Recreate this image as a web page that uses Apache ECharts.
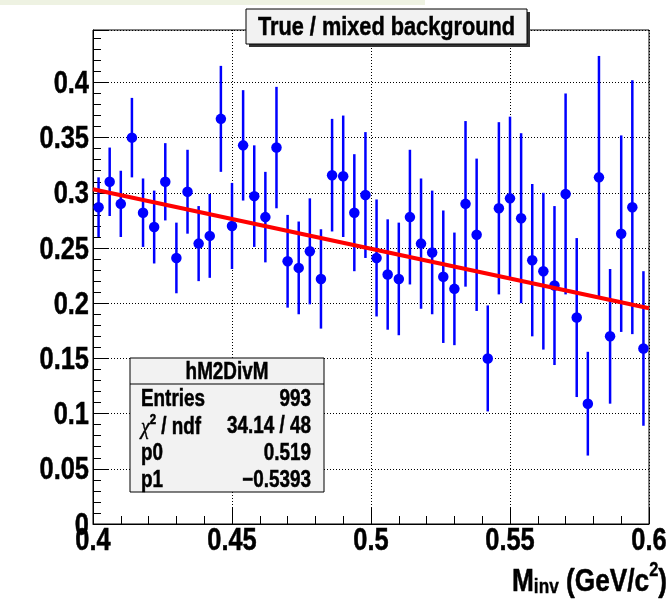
<!DOCTYPE html>
<html>
<head>
<meta charset="utf-8">
<script src="https://cdn.jsdelivr.net/npm/echarts@6/dist/echarts.min.js"></script>
<style>
  html, body { margin: 0; padding: 0; background: #ffffff; }
  #chart { width: 671px; height: 603px; }
</style>
</head>
<body>
<div id="chart"></div>
<script>
// Invariant-mass bin centres (GeV/c^2), 50 bins of 4 MeV between 0.4 and 0.6
const massCenters = [
  0.402, 0.406, 0.410, 0.414, 0.418, 0.422, 0.426, 0.430, 0.434, 0.438,
  0.442, 0.446, 0.450, 0.454, 0.458, 0.462, 0.466, 0.470, 0.474, 0.478,
  0.482, 0.486, 0.490, 0.494, 0.498, 0.502, 0.506, 0.510, 0.514, 0.518,
  0.522, 0.526, 0.530, 0.534, 0.538, 0.542, 0.546, 0.550, 0.554, 0.558,
  0.562, 0.566, 0.570, 0.574, 0.578, 0.582, 0.586, 0.590, 0.594, 0.598
];

// True / mixed-event background ratio per bin
const ratioValues = [
  0.287, 0.310, 0.290, 0.350, 0.282, 0.269, 0.310, 0.241, 0.301, 0.254,
  0.261, 0.367, 0.270, 0.343, 0.297, 0.278, 0.341, 0.238, 0.232, 0.247,
  0.222, 0.316, 0.315, 0.282, 0.298, 0.241, 0.226, 0.222, 0.278, 0.254,
  0.246, 0.224, 0.213, 0.290, 0.262, 0.150, 0.286, 0.295, 0.277, 0.239,
  0.229, 0.216, 0.299, 0.187, 0.109, 0.314, 0.170, 0.263, 0.287, 0.159
];

// Statistical uncertainty of each ratio
const ratioErrors = [
  0.027, 0.031, 0.030, 0.036, 0.031, 0.033, 0.035, 0.032, 0.038, 0.034,
  0.038, 0.048, 0.039, 0.050, 0.046, 0.041, 0.055, 0.042, 0.042, 0.048,
  0.045, 0.051, 0.055, 0.053, 0.057, 0.053, 0.050, 0.051, 0.061, 0.059,
  0.056, 0.060, 0.051, 0.075, 0.069, 0.048, 0.078, 0.074, 0.077, 0.069,
  0.071, 0.072, 0.091, 0.072, 0.047, 0.110, 0.061, 0.089, 0.115, 0.070
];

// Linear fit p0 + p1 * M over the full range
const fitP0 = 0.519;
const fitP1 = -0.5393;
const fitRange = [0.4, 0.6];

// Axis ranges and tick labels
const xTicks = [0.4, 0.45, 0.5, 0.55, 0.6];
const yTicks = [0, 0.05, 0.1, 0.15, 0.2, 0.25, 0.3, 0.35, 0.4];
const yMax = 0.4475;

// Statistics box content
const statsTitle = 'hM2DivM';
const statsLabels = ['Entries', '{g|χ}{sup|2}{t| / ndf}', 'p0', 'p1'];
const statsValues = ['993', '34.14 / 48', '0.519', '\u22120.5393'];

// Helvetica-bold look: Liberation Sans bold squeezed horizontally
const FAMILY = "'Liberation Sans', Arial, sans-serif";
const SQUEEZE = 0.82;

function fmtTick(v) {
  return String(parseFloat(v.toFixed(3)));
}

const chart = echarts.init(document.getElementById('chart'), null, { renderer: 'canvas' });

const errorData = massCenters.map((x, i) => [x, ratioValues[i] - ratioErrors[i], ratioValues[i] + ratioErrors[i]]);
const pointData = massCenters.map((x, i) => [x, ratioValues[i]]);
const fitData = fitRange.map(x => [x, fitP0 + fitP1 * x]);

function boldText(x, y, text, size, align, vAlign) {
  return {
    type: 'text', x: x, y: y, scaleX: SQUEEZE, z: 12,
    style: {
      text: text, font: 'bold ' + size + 'px ' + FAMILY, fill: '#000',
      stroke: '#000', lineWidth: 0.5,
      align: align, verticalAlign: vAlign
    }
  };
}

// Statistics box
const sx = 130, sy = 358, sw = 194, headH = 26, rowH = 27;
const statsGraphics = [
  {
    type: 'rect', shape: { x: sx, y: sy, width: sw, height: headH + rowH * 4 },
    style: { fill: '#f2f2f2', stroke: '#000', lineWidth: 1 }, z: 10
  },
  {
    type: 'line', shape: { x1: sx, y1: sy + headH, x2: sx + sw, y2: sy + headH },
    style: { stroke: '#000', lineWidth: 1 }, z: 11
  },
  boldText(sx + sw / 2, sy + headH / 2 + 2, statsTitle, 23, 'center', 'middle')
];
statsLabels.forEach((lab, i) => {
  const cy = sy + headH + rowH * i + rowH / 2 + 2;
  const t = boldText(sx + 11, cy, lab, 23, 'left', 'middle');
  t.style.rich = {
    g: { fontFamily: "'Liberation Serif', serif", fontStyle: 'italic', fontSize: 24, fill: '#000', verticalAlign: 'bottom', lineHeight: 26 },
    sup: { fontFamily: FAMILY, fontWeight: 'bold', fontSize: 14, fill: '#000', verticalAlign: 'top', lineHeight: 14 },
    t: { fontFamily: FAMILY, fontWeight: 'bold', fontSize: 23, fill: '#000', verticalAlign: 'bottom', lineHeight: 26 }
  };
  statsGraphics.push(t);
  statsGraphics.push(boldText(sx + sw - 13, cy, statsValues[i], 23, 'right', 'middle'));
});

const fixedGraphics = [
  // pale strip along the top-left edge
  { type: 'rect', shape: { x: 0, y: 0, width: 425, height: 5 }, style: { fill: '#eef2e2' }, z: 1 },
  // title box with drop shadow
  { type: 'rect', shape: { x: 249, y: 12, width: 281, height: 35 }, style: { fill: '#333' }, z: 10 },
  { type: 'rect', shape: { x: 246, y: 9, width: 281, height: 35 }, style: { fill: '#f2f2f2', stroke: '#000', lineWidth: 1 }, z: 11 },
  boldText(386.5, 28, 'True / mixed background', 26.5, 'center', 'middle'),
  // x-axis title
  {
    type: 'text', x: 667, y: 560, scaleX: SQUEEZE, z: 12,
    style: {
      text: '{m|M}{s|inv}{m| (GeV/c}{p|2}{m|)}',
      align: 'right', verticalAlign: 'top',
      rich: {
        m: { fontFamily: FAMILY, fontWeight: 'bold', fontSize: 32, fill: '#000', stroke: '#000', lineWidth: 0.5, lineHeight: 38, verticalAlign: 'bottom' },
        s: { fontFamily: FAMILY, fontWeight: 'bold', fontSize: 21, fill: '#000', stroke: '#000', lineWidth: 0.4, lineHeight: 9, verticalAlign: 'bottom' },
        p: { fontFamily: FAMILY, fontWeight: 'bold', fontSize: 20, fill: '#000', stroke: '#000', lineWidth: 0.4, lineHeight: 18, verticalAlign: 'top' }
      }
    }
  }
].concat(statsGraphics);

const axisCommon = {
  type: 'value',
  axisLine: { show: true, onZero: false, lineStyle: { color: '#000', width: 1 } },
  axisTick: { show: true, inside: true, length: 16, lineStyle: { color: '#000', width: 1 } },
  minorTick: { show: true, splitNumber: 5, length: 8, lineStyle: { color: '#000', width: 1 } },
  splitLine: { show: true, lineStyle: { color: '#000', width: 1, type: [1, 2] } },
  axisLabel: { show: false }
};

const option = {
  backgroundColor: '#ffffff',
  animation: false,
  grid: {
    left: 93, right: 22, top: 30, bottom: 79,
    show: true, borderColor: '#000', borderWidth: 1, backgroundColor: 'transparent'
  },
  xAxis: Object.assign({}, axisCommon, { min: 0.4, max: 0.6, interval: 0.05 }),
  yAxis: Object.assign({}, axisCommon, { min: 0, max: yMax, interval: 0.05 }),
  series: [
    {
      name: 'errors', type: 'custom', clip: true, z: 3,
      renderItem: function (params, api) {
        const x = api.value(0);
        const lo = api.coord([x, api.value(1)]);
        const hi = api.coord([x, api.value(2)]);
        return {
          type: 'line',
          shape: { x1: lo[0], y1: lo[1], x2: hi[0], y2: hi[1] },
          style: { stroke: '#0000ff', lineWidth: 2.5 }
        };
      },
      encode: { x: 0, y: [1, 2] },
      data: errorData
    },
    {
      name: 'ratio', type: 'scatter', z: 4,
      symbol: 'circle', symbolSize: 10.5,
      itemStyle: { color: '#0000ff', opacity: 1 },
      data: pointData
    },
    {
      name: 'fit', type: 'line', z: 5, symbol: 'none', silent: true,
      lineStyle: { color: '#ff0000', width: 4 },
      data: fitData
    }
  ],
  graphic: fixedGraphics
};

chart.setOption(option);

// Tick labels placed at the axis scale positions
const finder = { xAxisIndex: 0, yAxisIndex: 0 };
const tickLabels = [];
xTicks.forEach(v => {
  const p = chart.convertToPixel(finder, [v, 0]);
  tickLabels.push(boldText(p[0], p[1] + 17, fmtTick(v), 31, 'center', 'middle'));
});
yTicks.forEach(v => {
  const p = chart.convertToPixel(finder, [0.4, v]);
  tickLabels.push(boldText(p[0] - 4, p[1] + 2, fmtTick(v), 31, 'right', 'middle'));
});

chart.setOption({ graphic: fixedGraphics.concat(tickLabels) }, { replaceMerge: ['graphic'] });
</script>
</body>
</html>
